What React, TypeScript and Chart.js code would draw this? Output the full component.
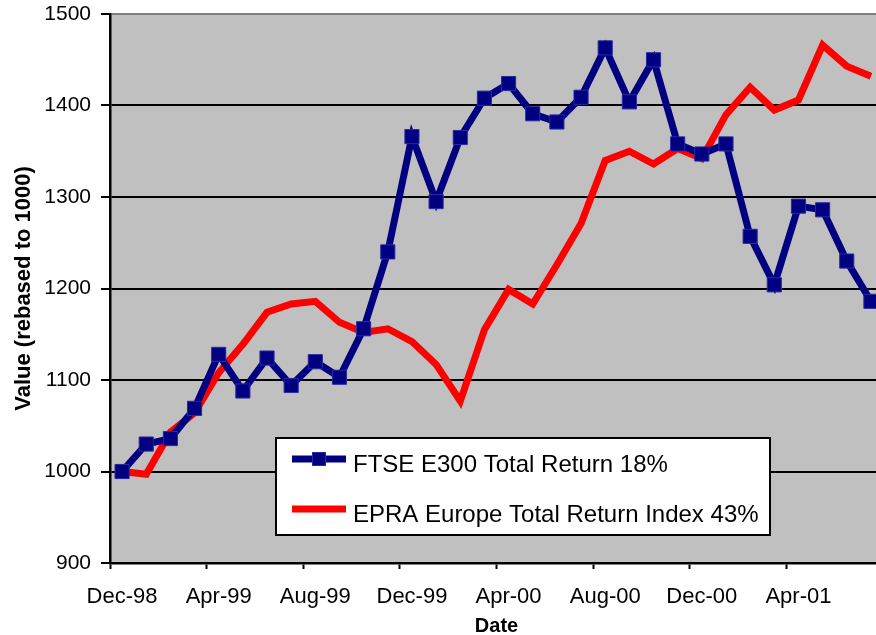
import React, { useEffect, useRef } from 'react';
import { Chart, registerables } from 'chart.js';

Chart.register(...registerables);

const months = [
  'Dec-98', 'Jan-99', 'Feb-99', 'Mar-99', 'Apr-99', 'May-99', 'Jun-99', 'Jul-99', 'Aug-99', 'Sep-99', 'Oct-99', 'Nov-99',
  'Dec-99', 'Jan-00', 'Feb-00', 'Mar-00', 'Apr-00', 'May-00', 'Jun-00', 'Jul-00', 'Aug-00', 'Sep-00', 'Oct-00', 'Nov-00',
  'Dec-00', 'Jan-01', 'Feb-01', 'Mar-01', 'Apr-01', 'May-01', 'Jun-01', 'Jul-01',
];

const ftseValues = [
  1000, 1030, 1036, 1069, 1128, 1088, 1124, 1094, 1120, 1103, 1156, 1240,
  1366, 1295, 1365, 1408, 1424, 1391, 1382, 1409, 1463, 1404, 1450, 1358,
  1347, 1358, 1257, 1204, 1290, 1286, 1230, 1186,
];

const epraValues = [
  1000, 997, 1043, 1064, 1108, 1139, 1174, 1183, 1186, 1163, 1152, 1156,
  1142, 1117, 1077, 1155, 1199, 1183, 1226, 1271, 1340, 1350, 1336, 1353,
  1342, 1390, 1420, 1395, 1406, 1466, 1443, 1432,
];

const seriesNames = ['FTSE E300 Total Return 18%', 'EPRA Europe Total Return Index 43%'];
const yTicks = [900, 1000, 1100, 1200, 1300, 1400, 1500];
const labelEvery = 4;

const FONT = '"Liberation Sans", Arial, Helvetica, sans-serif';
const VIEW_W = 876;
const CANVAS_W = 894;
const CANVAS_H = 635;

const plotBackground = {
  id: 'plotBackground',
  beforeDraw(chart: any) {
    const { ctx, chartArea: a } = chart;
    ctx.save();
    ctx.fillStyle = '#C0C0C0';
    ctx.fillRect(a.left, a.top, a.right - a.left, a.bottom - a.top);
    ctx.restore();
  },
};

const boxLegend = {
  id: 'boxLegend',
  afterDraw(chart: any) {
    const { ctx, chartArea: a } = chart;
    const boxL = a.left + 166;
    const boxT = a.top + 424;
    const boxW = 494;
    const boxH = 97;
    ctx.save();
    ctx.fillStyle = '#FFFFFF';
    ctx.fillRect(boxL, boxT, boxW, boxH);
    ctx.lineWidth = 2;
    ctx.strokeStyle = '#000000';
    ctx.strokeRect(boxL, boxT, boxW, boxH);
    chart.data.datasets.forEach((ds: any, i: number) => {
      const cy = boxT + 21 + i * 50;
      ctx.beginPath();
      ctx.strokeStyle = ds.borderColor;
      ctx.lineWidth = ds.borderWidth;
      ctx.lineCap = 'butt';
      ctx.moveTo(boxL + 16, cy);
      ctx.lineTo(boxL + 70, cy);
      ctx.stroke();
      if (ds.pointRadius > 0) {
        const s = 14;
        ctx.fillStyle = ds.pointBackgroundColor;
        ctx.fillRect(boxL + 43 - s / 2, cy - s / 2, s, s);
        ctx.lineWidth = 1;
        ctx.strokeStyle = ds.pointBorderColor;
        ctx.strokeRect(boxL + 43 - s / 2 + 0.5, cy - s / 2 + 0.5, s - 1, s - 1);
      }
      ctx.fillStyle = '#000000';
      ctx.font = `24px ${FONT}`;
      ctx.textBaseline = 'middle';
      ctx.textAlign = 'left';
      ctx.fillText(ds.label, boxL + 77, cy + 6);
    });
    ctx.restore();
  },
};

export default function App() {
  const ref = useRef<HTMLCanvasElement | null>(null);

  useEffect(() => {
    if (!ref.current) return;
    const chart = new Chart(ref.current, {
      type: 'line',
      data: {
        labels: months,
        datasets: [
          {
            label: seriesNames[0],
            data: ftseValues,
            borderColor: '#000080',
            backgroundColor: '#000080',
            borderWidth: 7,
            tension: 0,
            pointStyle: 'rect',
            pointRadius: 10,
            pointBackgroundColor: '#000080',
            pointBorderColor: '#2A2AA0',
            pointBorderWidth: 1,
            pointHoverRadius: 10,
          },
          {
            label: seriesNames[1],
            data: epraValues,
            borderColor: '#FF0000',
            backgroundColor: '#FF0000',
            borderWidth: 7,
            tension: 0,
            pointRadius: 0,
            pointHoverRadius: 0,
          },
        ],
      },
      options: {
        responsive: false,
        maintainAspectRatio: false,
        animation: false,
        events: [],
        layout: { padding: { top: 14, left: 0, right: 0, bottom: 0 } },
        plugins: {
          legend: { display: false },
          tooltip: { enabled: false },
        },
        scales: {
          x: {
            type: 'category',
            offset: true,
            afterFit: (scale: any) => {
              scale.height = 72;
              scale.paddingLeft = 0;
              scale.paddingRight = 0;
            },
            grid: {
              display: true,
              offset: true,
              drawOnChartArea: false,
              drawTicks: true,
              tickLength: 6,
              tickWidth: 2,
              tickColor: (ctx: any) => (ctx.index % labelEvery === 0 ? '#000000' : 'rgba(0,0,0,0)'),
            },
            border: { display: true, color: '#000000', width: 2.5 },
            ticks: {
              autoSkip: false,
              maxRotation: 0,
              minRotation: 0,
              padding: 15,
              color: '#000000',
              font: { family: FONT, size: 22 },
              callback: (_v: any, idx: number) => (idx % labelEvery === 0 ? months[idx] : ''),
            },
            title: {
              display: true,
              text: 'Date',
              color: '#000000',
              font: { family: FONT, size: 20, weight: 'bold', lineHeight: 0.85 },
              padding: { top: 0, bottom: 0 },
            },
          },
          y: {
            min: 900,
            max: 1500,
            afterFit: (scale: any) => {
              scale.width = 110;
              scale.paddingTop = 0;
              scale.paddingBottom = 0;
            },
            afterBuildTicks: (scale: any) => {
              scale.ticks = yTicks.map((v) => ({ value: v }));
            },
            grid: {
              display: true,
              color: (ctx: any) => (ctx.tick && ctx.tick.value === 1500 ? '#808080' : '#000000'),
              lineWidth: 2,
              drawTicks: true,
              tickLength: 9,
              tickColor: '#000000',
              tickWidth: 2,
            },
            border: { display: true, color: '#000000', width: 2.5 },
            ticks: {
              padding: 10,
              color: '#000000',
              font: { family: FONT, size: 21 },
              callback: (v: any) => String(v),
            },
            title: {
              display: true,
              text: 'Value (rebased to 1000)',
              color: '#000000',
              font: { family: FONT, size: 22, weight: 'bold' },
              padding: { top: 11, bottom: 0 },
            },
          },
        },
      },
      plugins: [plotBackground, boxLegend],
    } as any);
    return () => chart.destroy();
  }, []);

  return (
    <div
      style={{
        position: 'fixed',
        left: 0,
        top: 0,
        width: VIEW_W,
        height: CANVAS_H,
        overflow: 'hidden',
        background: '#FFFFFF',
      }}
    >
      <div style={{ position: 'relative', width: CANVAS_W, height: CANVAS_H }}>
        <canvas
          ref={ref}
          width={CANVAS_W}
          height={CANVAS_H}
          style={{ display: 'block', width: CANVAS_W, height: CANVAS_H }}
        />
      </div>
    </div>
  );
}
